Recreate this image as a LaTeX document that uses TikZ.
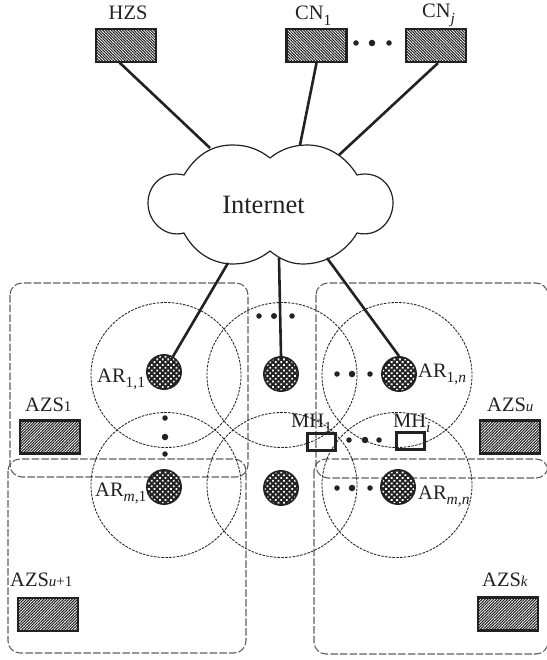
\documentclass[tikz,border=0pt]{standalone}
\usepackage{fontspec}
\setmainfont{Liberation Serif}
\usetikzlibrary{patterns.meta}
\definecolor{ink}{HTML}{222222}
\newcommand{\bigf}{\fontsize{20.5}{20.5}\selectfont}
\newcommand{\subf}[1]{\raisebox{-0.26em}{\fontsize{15.5}{15.5}\selectfont #1}}
\newcommand{\subflat}[1]{{\fontsize{15}{15}\selectfont #1}}
\tikzset{
  server/.style={draw=ink,line width=2.1pt,inner sep=0pt,minimum width=60pt,minimum height=33pt,
    pattern={Lines[angle=45,distance=2pt,line width=1.05pt]},pattern color=ink},
  serverb/.style={server,pattern={Lines[angle=-45,distance=2pt,line width=1.05pt]}},
  router/.style={circle,draw=ink,line width=3.4pt,inner sep=0pt,minimum size=32.5pt,
    fill=ink,postaction={pattern={Dots[distance=3.9pt,angle=45,radius=1.3pt]},pattern color=white}},
  host/.style={draw=ink,line width=2.2pt,inner sep=0pt,minimum width=28pt,minimum height=17pt},
  link/.style={draw=ink,line width=2.6pt},
  zone/.style={draw=gray!75!black,line width=1.1pt,dash pattern=on 7.5pt off 2.2pt,rounded corners=12pt},
  cell/.style={draw=ink,line width=.85pt,dash pattern=on 2.6pt off 1.2pt},
  lab/.style={anchor=base west,inner sep=0pt,text=ink,font=\bigf},
  dotm/.style={circle,fill=ink,inner sep=0pt,minimum size=#1},
}
\begin{document}
\begin{tikzpicture}[x=1pt,y=-1pt]
\useasboundingbox (0,0) rectangle (546,660);
\fill[white] (0,0) rectangle (546,660);
% zones
\draw[zone] (10,283) rectangle (248,477);
\draw[zone] (8,459) rectangle (246,653);
\draw[zone] (316,283) rectangle (548,478);
\draw[zone] (314,459) rectangle (548,654);
% cells
\foreach \cx in {166,282,397}{
  \foreach \cy in {375,485}{
    \draw[cell] (\cx,\cy) ellipse (75 and 72.5);
  }
}
% top hosts
\node[serverb] (hzs) at (126,45.5) {};
\node[serverb] (cn1) at (316.5,45.5) {};
\node[serverb] (cnj) at (436,45.5) {};
\node[lab] (lhzs) at (108.5,20) {HZS};
\node[lab] (lcn1) at (295,20) {CN\subf{1}};
\node[lab] (lcnj) at (422,18) {CN\subf{\textit{j}}};
% cloud
\draw[ink,line width=1.2pt,fill=white]
  (184,175) .. controls (198,152) and (215,145) .. (233,145)
  .. controls (248,145) and (260,150) .. (270,158)
  .. controls (280,150) and (292,145) .. (307,145)
  .. controls (328,145) and (346,157) .. (357,175)
  .. controls (378,170) and (393,185) .. (393,203)
  .. controls (393,221) and (378,238) .. (357,233)
  .. controls (346,252) and (325,264) .. (303,264)
  .. controls (290,264) and (280,259) .. (270,251)
  .. controls (260,259) and (248,264) .. (233,264)
  .. controls (212,264) and (194,252) .. (184,233)
  .. controls (165,238) and (148,222) .. (148,203)
  .. controls (148,185) and (163,170) .. (184,175) -- cycle;
\node[inner sep=0pt,text=ink,font=\fontsize{26.5}{26.5}\selectfont] (inet) at (263.5,205) {Internet};
\coordinate (c1) at (210,148);
\coordinate (c2) at (300,145);
\coordinate (c3) at (339,155);
\coordinate (c4) at (228,263);
\coordinate (c5) at (279,258);
\coordinate (c6) at (327,258);
% routers
\node[router] (r11) at (164,372) {};
\node[router] (r12) at (281,374) {};
\node[router] (r13) at (399,374) {};
\node[router] (r21) at (164,487) {};
\node[router] (r22) at (281,488) {};
\node[router] (r23) at (398,487) {};
% links
\draw[link] (hzs.south west)++(24,0) -- (c1);
\draw[link] (cn1.south) -- (c2);
\draw[link] (cnj.south) ++(2,0) -- (c3);
\draw[link] (c4) -- (r11.60);
\draw[link] (c5) -- (r12.north);
\draw[link] (c6) -- (r13.north);
% zone servers
\node[server] (azs1) at (50,437) {};
\node[server] (azsv) at (48,614.5) {};
\node[server] (azsu) at (510,437) {};
\node[server] (azsk) at (508,614) {};
\node[lab] (l1) at (25,411) {AZS\subflat{1}};
\node[lab] (l2) at (10,586) {AZS\subflat{\textit{u}+1}};
\node[lab] (l3) at (487,411) {AZS\subflat{\textit{u}}};
\node[lab] (l4) at (482,586) {AZS\subflat{\textit{k}}};
% router labels
\node[lab] (a1) at (97,382) {AR\subf{1,1}};
\node[lab] (a2) at (95,496) {AR\subf{\textit{m},1}};
\node[lab] (a3) at (418,377) {AR\subf{1,\textit{n}}};
\node[lab] (a4) at (418,499) {AR\subf{\textit{m,n}}};
% mobile hosts
\node[host] (mh1) at (321.5,442) {};
\node[host] (mhi) at (410.5,441) {};
\node[lab] (m1) at (291,427) {MH\subf{1}};
\node[lab] (m2) at (393,427) {MH\subf{\textit{i}}};
% dots
\foreach \n/\x/\y/\s in {a/356/43/5.5pt,b/372/43/6.5pt,c/389/43/5.5pt,
  d/259/316/5.5pt,e/274/316/6pt,f/292/316/5.5pt,
  g/165/418/5.5pt,h/165/437/6.5pt,i/165/454/5.5pt,
  j/337/374/5.5pt,k/352/374/6.5pt,l/370/374/5.5pt,
  m/337/488/5.5pt,o/352/488/6.5pt,p/370/488/5.5pt,
  q/349/440/5.5pt,r/365/440/6.5pt,s/379/440/5.5pt}{
  \node[dotm=\s] (dot\n) at (\x,\y) {};
}
\end{tikzpicture}
\end{document}
